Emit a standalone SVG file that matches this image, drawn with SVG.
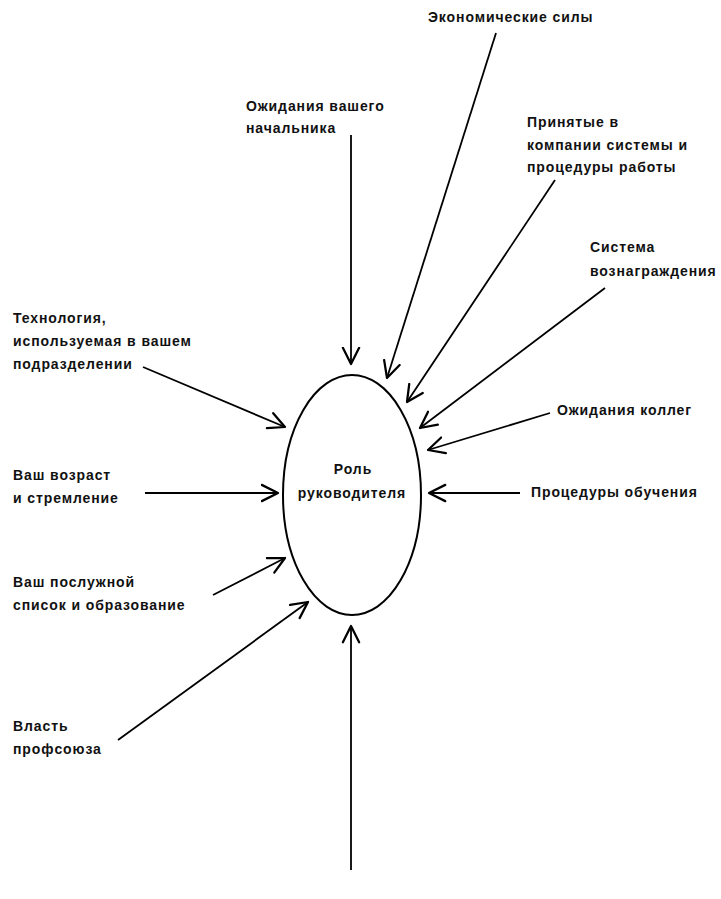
<svg xmlns="http://www.w3.org/2000/svg" width="721" height="899" viewBox="0 0 721 899">
  <style>
    .lbl { font-family: "Liberation Sans", Arial, sans-serif; font-size: 14px; font-weight: bold; fill: #111; letter-spacing: 0.9px; }
    .ctr { text-anchor: middle; }
    .edge { stroke: #000; stroke-width: 1.8; fill: none; marker-end: url(#arr); }
  </style>
  <defs>
    <marker id="arr" markerUnits="userSpaceOnUse" markerWidth="20" markerHeight="20" refX="14" refY="7" orient="auto" viewBox="0 0 16 14">
      <path d="M1,0.5 L14,7 L1,13.5" fill="none" stroke="#000" stroke-width="1.8" stroke-linecap="round" stroke-linejoin="round"/>
    </marker>
  </defs>
  <rect width="721" height="899" fill="#fff"/>

  <!-- central node -->
  <g id="role">
    <ellipse cx="352" cy="495" rx="69" ry="120" fill="none" stroke="#000" stroke-width="2"/>
    <text class="lbl ctr" x="353" y="474">Роль</text>
    <text class="lbl ctr" x="352" y="498">руководителя</text>
  </g>

  <!-- influence labels -->
  <g id="economy"><text class="lbl" x="428" y="22">Экономические силы</text></g>
  <g id="boss">
    <text class="lbl" x="246" y="111">Ожидания вашего</text>
    <text class="lbl" x="246" y="133">начальника</text>
  </g>
  <g id="procedures">
    <text class="lbl" x="527" y="127">Принятые в</text>
    <text class="lbl" x="527" y="150">компании системы и</text>
    <text class="lbl" x="527" y="172">процедуры работы</text>
  </g>
  <g id="reward">
    <text class="lbl" x="590" y="252">Система</text>
    <text class="lbl" x="590" y="276">вознаграждения</text>
  </g>
  <g id="peers"><text class="lbl" x="557" y="415">Ожидания коллег</text></g>
  <g id="training"><text class="lbl" x="531" y="497">Процедуры обучения</text></g>
  <g id="technology">
    <text class="lbl" x="13" y="323">Технология,</text>
    <text class="lbl" x="13" y="346">используемая в вашем</text>
    <text class="lbl" x="13" y="369">подразделении</text>
  </g>
  <g id="age">
    <text class="lbl" x="13" y="480">Ваш возраст</text>
    <text class="lbl" x="13" y="503">и стремление</text>
  </g>
  <g id="record">
    <text class="lbl" x="13" y="587">Ваш послужной</text>
    <text class="lbl" x="13" y="610">список и образование</text>
  </g>
  <g id="union">
    <text class="lbl" x="13" y="731">Власть</text>
    <text class="lbl" x="13" y="754">профсоюза</text>
  </g>

  <!-- connectors -->
  <g id="connectors">
    <line class="edge" x1="351" y1="135" x2="351" y2="364"/>
    <line class="edge" x1="496" y1="33" x2="387" y2="378"/>
    <line class="edge" x1="555" y1="180" x2="407" y2="402"/>
    <line class="edge" x1="605" y1="288" x2="420" y2="428"/>
    <line class="edge" x1="550" y1="413" x2="428" y2="450"/>
    <line class="edge" x1="520" y1="493" x2="429" y2="493"/>
    <line class="edge" x1="143" y1="367" x2="285" y2="427"/>
    <line class="edge" x1="145" y1="493" x2="278" y2="493"/>
    <line class="edge" x1="213" y1="595" x2="285" y2="558"/>
    <line class="edge" x1="118" y1="740" x2="308" y2="602"/>
    <line class="edge" x1="351" y1="870" x2="351" y2="626"/>
  </g>
</svg>
